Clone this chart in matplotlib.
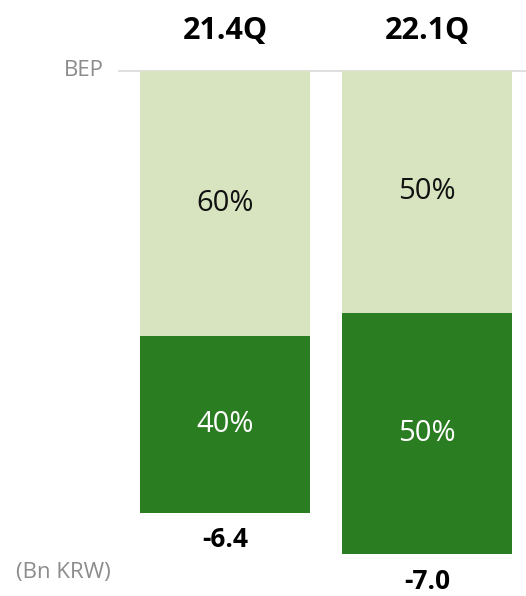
import numpy as np
import matplotlib
matplotlib.use("Agg")
import matplotlib.pyplot as plt

plt.rcParams['font.family'] = ['Open Sans', 'DejaVu Sans']

quarters = ['21.4Q', '22.1Q']
op_loss = [-6.4, -7.0]          # Bn KRW
share_dark = [40, 50]           # % of loss, lower segment
share_light = [60, 50]          # % of loss, upper segment

light_green = '#d8e4bf'
dark_green = '#2b7d22'
grey = '#8c8c8c'

fig = plt.figure(figsize=(5.26, 5.96), dpi=100)
ax = fig.add_axes([0, 0, 1, 1])

# pixel-ish layout: BEP line at 71px from top, 69px per Bn KRW
s = 69.0
top_px = 71.0
ax.set_ylim(-(596 - top_px) / s, top_px / s)
ax.set_xlim(-225 / 202, (526 - 225) / 202)
ax.axis('off')

x = np.arange(len(quarters))
loss = np.array(op_loss)
dark = loss * np.array(share_dark) / 100
light = loss * np.array(share_light) / 100
w = 170 / 202

# light part hangs from BEP, dark part below it
ax.bar(x, light, width=w, bottom=0, color=light_green, zorder=2)
ax.bar(x, dark, width=w, bottom=light, color=dark_green, zorder=2)

# BEP line
ax.plot([(119 - 225) / 202, (526 - 225) / 202], [0, 0], color='#d9d9d9', lw=1.2, zorder=1)
ax.text((104 - 225) / 202, 0, 'BEP', ha='right', va='center', fontsize=16, color=grey)

for i in range(len(quarters)):
    ax.text(x[i], 40 / s, quarters[i], ha='center', va='center',
            fontsize=22, fontweight='bold', color='black')
    ax.text(x[i], light[i] / 2, f'{share_light[i]}%', ha='center', va='center',
            fontsize=21, color='#111111')
    ax.text(x[i], light[i] + dark[i] / 2, f'{share_dark[i]}%', ha='center', va='center',
            fontsize=21, color='white')
    ax.text(x[i], loss[i] - 27 / s, f'{op_loss[i]:.1f}', ha='center', va='center',
            fontsize=19, fontweight='bold', color='black')

ax.text((63 - 225) / 202, -(572 - top_px) / s, '(Bn KRW)', ha='center', va='center',
        fontsize=16, color=grey)

fig.savefig('out.png', dpi=100)
